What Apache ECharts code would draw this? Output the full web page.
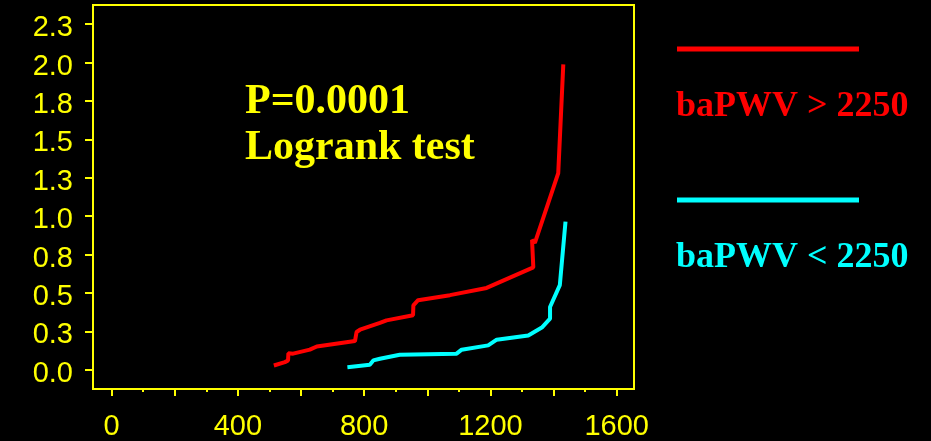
<!DOCTYPE html>
<html>
<head>
<meta charset="utf-8">
<script src="https://cdn.jsdelivr.net/npm/echarts@6/dist/echarts.min.js"></script>
<style>
html,body{margin:0;padding:0;background:#000;}
#chart{width:931px;height:441px;}
</style>
</head>
<body>
<div id="chart"></div>
<script>
// ---- data ----
var redX  = [514, 549, 559, 560, 575, 628, 650, 771, 776, 787, 850, 871, 955, 956, 971, 1072, 1188, 1336, 1332, 1341, 1415, 1431];
var redY  = [0.028, 0.050, 0.061, 0.107, 0.105, 0.131, 0.152, 0.187, 0.246, 0.261, 0.305, 0.322, 0.355, 0.420, 0.453, 0.486, 0.533, 0.667, 0.845, 0.826, 1.281, 1.989];
var cyanX = [747, 818, 829, 850, 913, 1093, 1109, 1193, 1220, 1320, 1363, 1389, 1389, 1420, 1438];
var cyanY = [0.017, 0.033, 0.061, 0.072, 0.098, 0.105, 0.131, 0.159, 0.196, 0.224, 0.275, 0.333, 0.409, 0.551, 0.965];

var yTickValues = [0, 0.25, 0.5, 0.75, 1.0, 1.25, 1.5, 1.75, 2.0, 2.25];
var yTickLabels = ['0.0', '0.3', '0.5', '0.8', '1.0', '1.3', '1.5', '1.8', '2.0', '2.3'];
var xMajorTicks = [0, 200, 400, 600, 800, 1000, 1200, 1400, 1600];
var xMinorTicks = [100, 300, 500, 700, 900, 1100, 1300, 1500];
var xTickLabels = [0, 400, 800, 1200, 1600];

var seriesNames = ['baPWV > 2250', 'baPWV < 2250'];
var annotation = ['P=0.0001', 'Logrank test'];

// ---- chart ----
function pairs(xs, ys) { return xs.map(function (x, i) { return [x, ys[i]]; }); }
function yLabel(v) {
  var best = 0, bd = Infinity;
  for (var i = 0; i < yTickValues.length; i++) {
    var d = Math.abs(yTickValues[i] - v);
    if (d < bd) { bd = d; best = i; }
  }
  return '{v|' + yTickLabels[best] + '}';
}

var YEL = '#ffff00';
var LABEL_FONT = '"Liberation Sans", Arial, sans-serif';
var chart = echarts.init(document.getElementById('chart'), null, {renderer: 'canvas'});
chart.setOption({
  backgroundColor: '#000000',
  animation: false,
  grid: {left: 93, right: 297, top: 5, bottom: 52, show: true, borderColor: YEL, borderWidth: 2, backgroundColor: 'transparent'},
  xAxis: [{
    type: 'value', min: -59, max: 1655,
    axisLine: {show: true, onZero: false, lineStyle: {color: YEL, width: 2}},
    axisTick: {show: true, inside: false, length: 7, lineStyle: {color: YEL, width: 2}, customValues: xMajorTicks},
    axisLabel: {show: true, color: YEL, fontSize: 29, fontFamily: LABEL_FONT, margin: 23, customValues: xTickLabels, formatter: function (v) { return String(v); }},
    splitLine: {show: false}
  }, {
    type: 'value', min: -59, max: 1655, position: 'bottom',
    axisLine: {show: false, onZero: false},
    axisTick: {show: true, inside: false, length: 3, lineStyle: {color: YEL, width: 2}, customValues: xMinorTicks},
    axisLabel: {show: false},
    splitLine: {show: false}
  }],
  yAxis: {
    type: 'value', min: -0.125, max: 2.375,
    axisLine: {show: true, onZero: false, lineStyle: {color: YEL, width: 2}},
    axisTick: {show: true, inside: false, length: 8, lineStyle: {color: YEL, width: 2}, customValues: yTickValues},
    axisLabel: {show: true, color: YEL, fontSize: 29, fontFamily: LABEL_FONT, margin: 20, customValues: yTickValues, formatter: function (v) { return yLabel(v); },
      rich: {v: {color: YEL, fontSize: 29, fontFamily: LABEL_FONT, padding: [8, 0, 0, 0]}}},
    splitLine: {show: false}
  },
  series: [{
    name: seriesNames[0], type: 'line', showSymbol: false, symbol: 'none',
    lineStyle: {color: '#ff0000', width: 4}, itemStyle: {color: '#ff0000'},
    data: pairs(redX, redY)
  }, {
    name: seriesNames[1], type: 'line', showSymbol: false, symbol: 'none',
    lineStyle: {color: '#00ffff', width: 4}, itemStyle: {color: '#00ffff'},
    data: pairs(cyanX, cyanY)
  }],
  graphic: [
    {type: 'text', left: 245, top: 79, style: {text: annotation[0] + '\n' + annotation[1], fill: YEL, font: 'bold 42px "Liberation Serif", "Times New Roman", serif', lineHeight: 46}},
    {type: 'line', shape: {x1: 677, y1: 49, x2: 859, y2: 49}, style: {stroke: '#ff0000', lineWidth: 5}},
    {type: 'text', left: 676, top: 89, style: {text: seriesNames[0], fill: '#ff0000', font: 'bold 36px "Liberation Serif", "Times New Roman", serif'}},
    {type: 'line', shape: {x1: 677, y1: 200, x2: 859, y2: 200}, style: {stroke: '#00ffff', lineWidth: 5}},
    {type: 'text', left: 676, top: 240, style: {text: seriesNames[1], fill: '#00ffff', font: 'bold 36px "Liberation Serif", "Times New Roman", serif'}}
  ]
});
</script>
</body>
</html>
